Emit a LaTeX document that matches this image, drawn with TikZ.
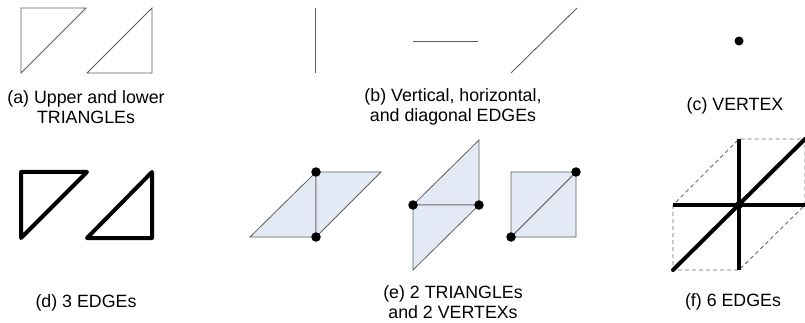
\documentclass[tikz,border=0pt]{standalone}
\usepackage{fontspec}
\setmainfont{Liberation Sans}
\usepackage{tikz}
\definecolor{thingray}{RGB}{95,95,95}
\definecolor{cellfill}{RGB}{228,234,245}
\definecolor{dashgray}{RGB}{105,105,105}
\tikzset{
  thinedge/.style={draw=thingray,line width=0.9pt,line join=miter},
  thickedge/.style={draw=black,line width=4pt,line join=round,line cap=round},
  cell/.style={fill=cellfill,draw=thingray,line width=0.8pt,line join=miter},
  dashedge/.style={draw=dashgray,line width=0.9pt,dash pattern=on 4pt off 3pt},
  vtx/.style={circle,fill=black,inner sep=0pt,minimum size=9.5pt},
  caption/.style={align=center,font=\fontsize{17.8}{20.5}\selectfont,inner sep=0pt}
}
\begin{document}
\begin{tikzpicture}[x=1pt,y=-1pt]
\useasboundingbox (0,0) rectangle (805,323);
%plot the cells
%Case a
\draw[thinedge] (21,8) -- (86,8) -- (21,73) -- cycle;
\draw[thinedge] (87,73) -- (152,8) -- (152,73) -- cycle;
%Case b
\draw[thinedge] (315,8) -- (315,73);
\draw[thinedge] (413,41) -- (478,41);
\draw[thinedge] (511,73) -- (577,8);
%Case c
\node[vtx,minimum size=9pt] (c0) at (739,41) {};
%Case d
\draw[thickedge] (21,172) -- (87,172) -- (21,238) -- cycle;
\draw[thickedge] (87,238) -- (152,172) -- (152,238) -- cycle;
%Case e
\coordinate (e1) at (250,237);
\coordinate (e2) at (316,237);
\coordinate (e3) at (316,172);
\coordinate (e4) at (381,172);
\draw[cell] (e1) -- (e2) -- (e3) -- cycle;
\draw[cell] (e3) -- (e4) -- (e2) -- cycle;
\coordinate (e5) at (413,205);
\coordinate (e6) at (479,205);
\coordinate (e7) at (479,140);
\coordinate (e8) at (413,270);
\draw[cell] (e5) -- (e7) -- (e6) -- cycle;
\draw[cell] (e5) -- (e6) -- (e8) -- cycle;
\coordinate (e9) at (511,237);
\coordinate (e10) at (576,237);
\coordinate (e11) at (576,172);
\coordinate (e12) at (511,172);
\draw[cell] (e9) -- (e10) -- (e11) -- cycle;
\draw[cell] (e9) -- (e11) -- (e12) -- cycle;
%put vertices
\node[vtx] (v1) at (e3) {};
\node[vtx] (v2) at (e2) {};
\node[vtx] (v3) at (e5) {};
\node[vtx] (v4) at (e6) {};
\node[vtx] (v5) at (e9) {};
\node[vtx] (v6) at (e11) {};
%Case f
\coordinate (f0) at (739,205);
\coordinate (fl) at (673,205);
\coordinate (fr) at (805,205);
\coordinate (fu) at (739,139);
\coordinate (fd) at (739,270);
\coordinate (fdl) at (673,270);
\coordinate (fur) at (805,139);
\draw[dashedge] (fl) -- (fdl) -- (fd) -- (fr) -- (fur) -- (fu) -- cycle;
\draw[thickedge,line cap=butt] (fl) -- (fr);
\draw[thickedge,line cap=butt] (fu) -- (fd);
\draw[thickedge,line cap=round] (fdl) -- (fur);
\node[vtx,minimum size=8pt] (f00) at (f0) {};
%caption
\node[caption] (ta) at (86,107) {(a) Upper and lower\\TRIANGLEs};
\node[caption] (tb) at (453,107) {(b) Vertical, horizontal,\\and diagonal EDGEs};
\node[caption] (tc) at (735,106) {(c) VERTEX};
\node[caption] (td) at (86,303) {(d) 3 EDGEs};
\node[caption] (te) at (453,302) {(e) 2 TRIANGLEs\\and 2 VERTEXs};
\node[caption] (tf) at (733,302) {(f) 6 EDGEs};
\end{tikzpicture}
\end{document}
